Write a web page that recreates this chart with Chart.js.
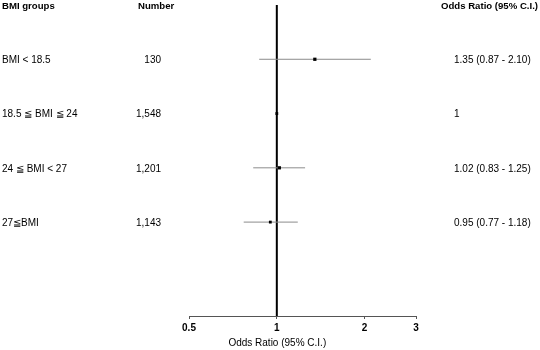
<!DOCTYPE html>
<html>
<head>
<meta charset="utf-8">
<script src="https://cdn.jsdelivr.net/npm/chart.js@4/dist/chart.umd.min.js"></script>
<style>
html,body{margin:0;padding:0;background:#fff;}
#c{display:block;}
</style>
</head>
<body>
<canvas id="c" width="540" height="350"></canvas>
<script>
const groups = ['BMI < 18.5', '18.5 \u2266 BMI \u2266 24', '24 \u2266 BMI < 27', '27\u2266BMI'];
const numbers = ['130', '1,548', '1,201', '1,143'];
const oddsRatio = [1.35, 1, 1.02, 0.95];
const ciLow = [0.87, null, 0.83, 0.77];
const ciHigh = [2.10, null, 1.25, 1.18];
const orLabels = ['1.35 (0.87 - 2.10)', '1', '1.02 (0.83 - 1.25)', '0.95 (0.77 - 1.18)'];
const markerSizes = [2.3, 2.0, 2.3, 2.0];
const xTicks = [0.5, 1, 2, 3];
const headers = ['BMI groups', 'Number', 'Odds Ratio (95% C.I.)'];
const axisTitle = 'Odds Ratio (95% C.I.)';

const Y_MIN = 0, Y_MAX = 5.73;
const FONT = '"Liberation Sans", Arial, sans-serif';

const datasets = [];
datasets.push({
  label: 'OR',
  data: oddsRatio.map((v, i) => ({x: v, y: i + 1})),
  pointStyle: 'rect',
  pointRadius: markerSizes,
  pointBackgroundColor: '#000',
  pointBorderWidth: 0,
  showLine: false
});
ciLow.forEach((lo, i) => {
  if (lo == null) return;
  datasets.push({
    label: 'CI' + i,
    data: [{x: lo, y: i + 1}, {x: ciHigh[i], y: i + 1}],
    showLine: true,
    borderColor: '#8c8c8c',
    borderWidth: 1,
    pointRadius: 0
  });
});
datasets.push({
  label: 'ref',
  data: [{x: 1, y: Y_MIN}, {x: 1, y: Y_MAX}],
  showLine: true,
  borderColor: '#000',
  borderWidth: 2,
  pointRadius: 0
});

const textPlugin = {
  id: 'forestText',
  afterDraw(chart) {
    const ctx = chart.ctx;
    const y = chart.scales.y;
    const x = chart.scales.x;
    ctx.save();
    ctx.fillStyle = '#000';
    ctx.textBaseline = 'middle';
    const hy = y.getPixelForValue(0) + 1;
    ctx.font = 'bold 9.6px ' + FONT;
    ctx.textAlign = 'left';
    ctx.fillText(headers[0], 2, hy);
    ctx.fillText(headers[1], 138, hy);
    ctx.fillText(headers[2], 441, hy);
    ctx.font = '10px ' + FONT;
    groups.forEach((g, i) => {
      const py = y.getPixelForValue(i + 1) + 1;
      ctx.textAlign = 'left';
      ctx.fillText(g, 2, py);
      ctx.textAlign = 'right';
      ctx.fillText(numbers[i], 161, py);
      ctx.textAlign = 'left';
      ctx.fillText(orLabels[i], 454, py);
    });
    ctx.textAlign = 'center';
    ctx.fillText(axisTitle, x.getPixelForValue(1) + 0.5, 343);
    ctx.restore();
  }
};

new Chart(document.getElementById('c'), {
  type: 'scatter',
  data: {datasets},
  plugins: [textPlugin],
  options: {
    responsive: false,
    animation: false,
    layout: {padding: {left: 189, right: 124, top: 5, bottom: 0}},
    plugins: {legend: {display: false}, tooltip: {enabled: false}},
    scales: {
      x: {
        type: 'logarithmic',
        min: 0.5,
        max: 3,
        afterBuildTicks(scale) { scale.ticks = xTicks.map(v => ({value: v})); },
        afterFit(scale) { scale.height = 34; },
        grid: {drawOnChartArea: false, drawTicks: true, tickLength: 3, color: '#555'},
        border: {display: true, color: '#555', width: 1},
        ticks: {
          color: '#000',
          font: {family: FONT, size: 10, weight: 'bold'},
          padding: 3,
          maxRotation: 0,
          autoSkip: false,
          callback: (v) => String(v)
        },
        title: {display: false}
      },
      y: {
        type: 'linear',
        reverse: true,
        min: Y_MIN,
        max: Y_MAX,
        display: false
      }
    }
  }
});
</script>
</body>
</html>
